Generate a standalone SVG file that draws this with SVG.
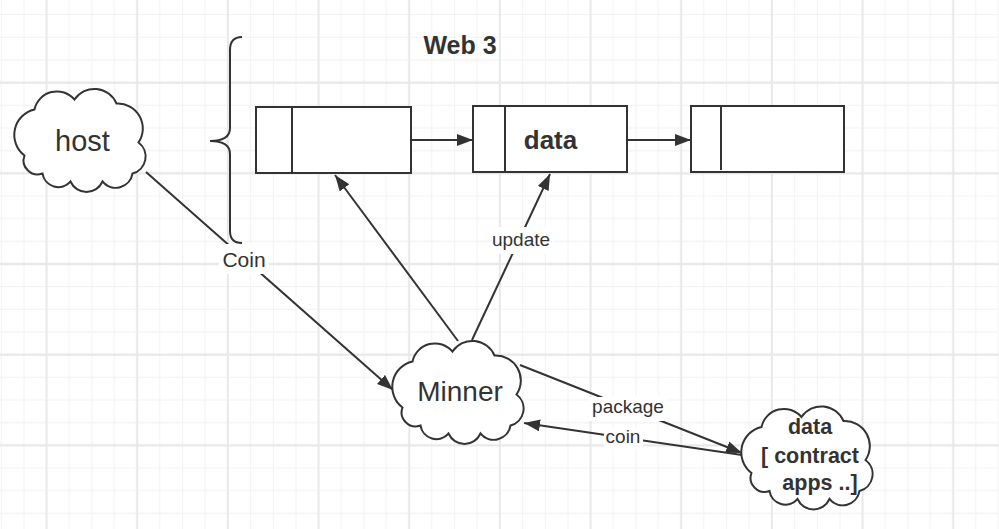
<svg xmlns="http://www.w3.org/2000/svg" xmlns:xlink="http://www.w3.org/1999/xlink" width="999" height="529" viewBox="0 0 999 529">
<style>
  .shape { fill: #ffffff; stroke: #333333; stroke-width: 2; }
  .line { fill: none; stroke: #333333; stroke-width: 2; }
  .conn { fill: none; stroke: #333333; stroke-width: 2; marker-end: url(#arrow); }
  .txt { font-family: "Liberation Sans", Arial, sans-serif; fill: #333333; text-anchor: middle; }
  .bold { font-weight: bold; }
  .lblbg { fill: #ffffff; stroke: none; }
  .minor { stroke: #f2f2f2; stroke-width: 1; }
  .major { stroke: #e8e8e8; stroke-width: 2; }
</style>
<defs>
  <pattern id="grid" patternUnits="userSpaceOnUse" x="-10.17" y="26" width="90.67" height="90.67">
    <line class="minor" x1="11.33" y1="0" x2="11.33" y2="90.67"/>
    <line class="minor" x1="34" y1="0" x2="34" y2="90.67"/>
    <line class="minor" x1="79.33" y1="0" x2="79.33" y2="90.67"/>
    <line class="minor" x1="0" y1="11.33" x2="90.67" y2="11.33"/>
    <line class="minor" x1="0" y1="34" x2="90.67" y2="34"/>
    <line class="minor" x1="0" y1="79.33" x2="90.67" y2="79.33"/>
    <line class="major" x1="56.67" y1="0" x2="56.67" y2="90.67"/>
    <line class="major" x1="0" y1="56.67" x2="90.67" y2="56.67"/>
  </pattern>
  <marker id="arrow" markerUnits="userSpaceOnUse" markerWidth="18" markerHeight="14" refX="16" refY="6" orient="auto">
    <path d="M0,0 L16,6 L0,12 Z" fill="#333333"/>
  </marker>
  <path id="cloud" d="M18,22 A23,23 0 0 1 58,12 A24,24 0 0 1 100,16 A25,25 0 0 1 122,55 A17.5,17.5 0 0 1 116,86 A17,17 0 0 1 86,94 A17.5,17.5 0 0 1 54,94 A16,16 0 0 1 26,86 A14,14 0 0 1 8,68 A26,26 0 0 1 18,22 Z"/>
</defs>

<rect x="0" y="0" width="999" height="529" fill="#ffffff"/>
<rect x="0" y="0" width="999" height="529" fill="url(#grid)"/>

<g id="connectors">
  <path class="conn" d="M146,172 L393,390"/>
  <path class="conn" d="M458,341 L335,175"/>
  <path class="conn" d="M472,340 L550,174"/>
  <path class="conn" d="M520,365 L742,453"/>
  <path class="conn" d="M742,455 L524,423"/>
  <path class="conn" d="M411,140 L473,140"/>
  <path class="conn" d="M627,140 L691,140"/>
  <g id="label-coin-host">
    <rect class="lblbg" x="219" y="244" width="50" height="30"/>
    <text class="txt" x="244" y="267" font-size="21">Coin</text>
  </g>
  <g id="label-update">
    <rect class="lblbg" x="489" y="227" width="64" height="27"/>
    <text class="txt" x="521" y="246" font-size="19">update</text>
  </g>
  <g id="label-package">
    <rect class="lblbg" x="589" y="397" width="78" height="24"/>
    <text class="txt" x="628" y="413" font-size="19">package</text>
  </g>
  <g id="label-coin">
    <rect class="lblbg" x="604" y="428" width="39" height="21"/>
    <text class="txt" x="623" y="443" font-size="19">coin</text>
  </g>
</g>

<g id="brace">
  <path class="line" d="M242,37 Q230,37 230,50 L230,128 Q230,141 210,141 Q230,141 230,154 L230,231 Q230,243 242,243"/>
</g>

<g id="title">
  <text class="txt bold" x="460" y="54" font-size="25">Web 3</text>
</g>

<g id="host">
  <use xlink:href="#cloud" class="shape" transform="translate(16.5,87.5)"/>
  <text class="txt" x="82.5" y="151" font-size="29">host</text>
</g>

<g id="block1">
  <rect class="shape" x="256" y="107" width="155" height="66"/>
  <line class="line" x1="292" y1="107" x2="292" y2="173"/>
</g>

<g id="block2">
  <rect class="shape" x="473" y="106" width="154" height="66"/>
  <line class="line" x1="505" y1="106" x2="505" y2="172"/>
  <text class="txt bold" x="550.5" y="149" font-size="26">data</text>
</g>

<g id="block3">
  <rect class="shape" x="691" y="106" width="153" height="66"/>
  <line class="line" x1="721" y1="106" x2="721" y2="170"/>
</g>

<g id="minner">
  <use xlink:href="#cloud" class="shape" transform="translate(394.5,339.5)"/>
  <text class="txt" x="460" y="401" font-size="28">Minner</text>
</g>

<g id="data-store">
  <use xlink:href="#cloud" class="shape" transform="translate(743.5,405)"/>
  <text class="txt bold" x="810" y="434" font-size="21.5">data</text>
  <text class="txt bold" x="810" y="463" font-size="21.5">[ contract</text>
  <text class="txt bold" x="820" y="490" font-size="21.5">apps ..]</text>
</g>
</svg>
